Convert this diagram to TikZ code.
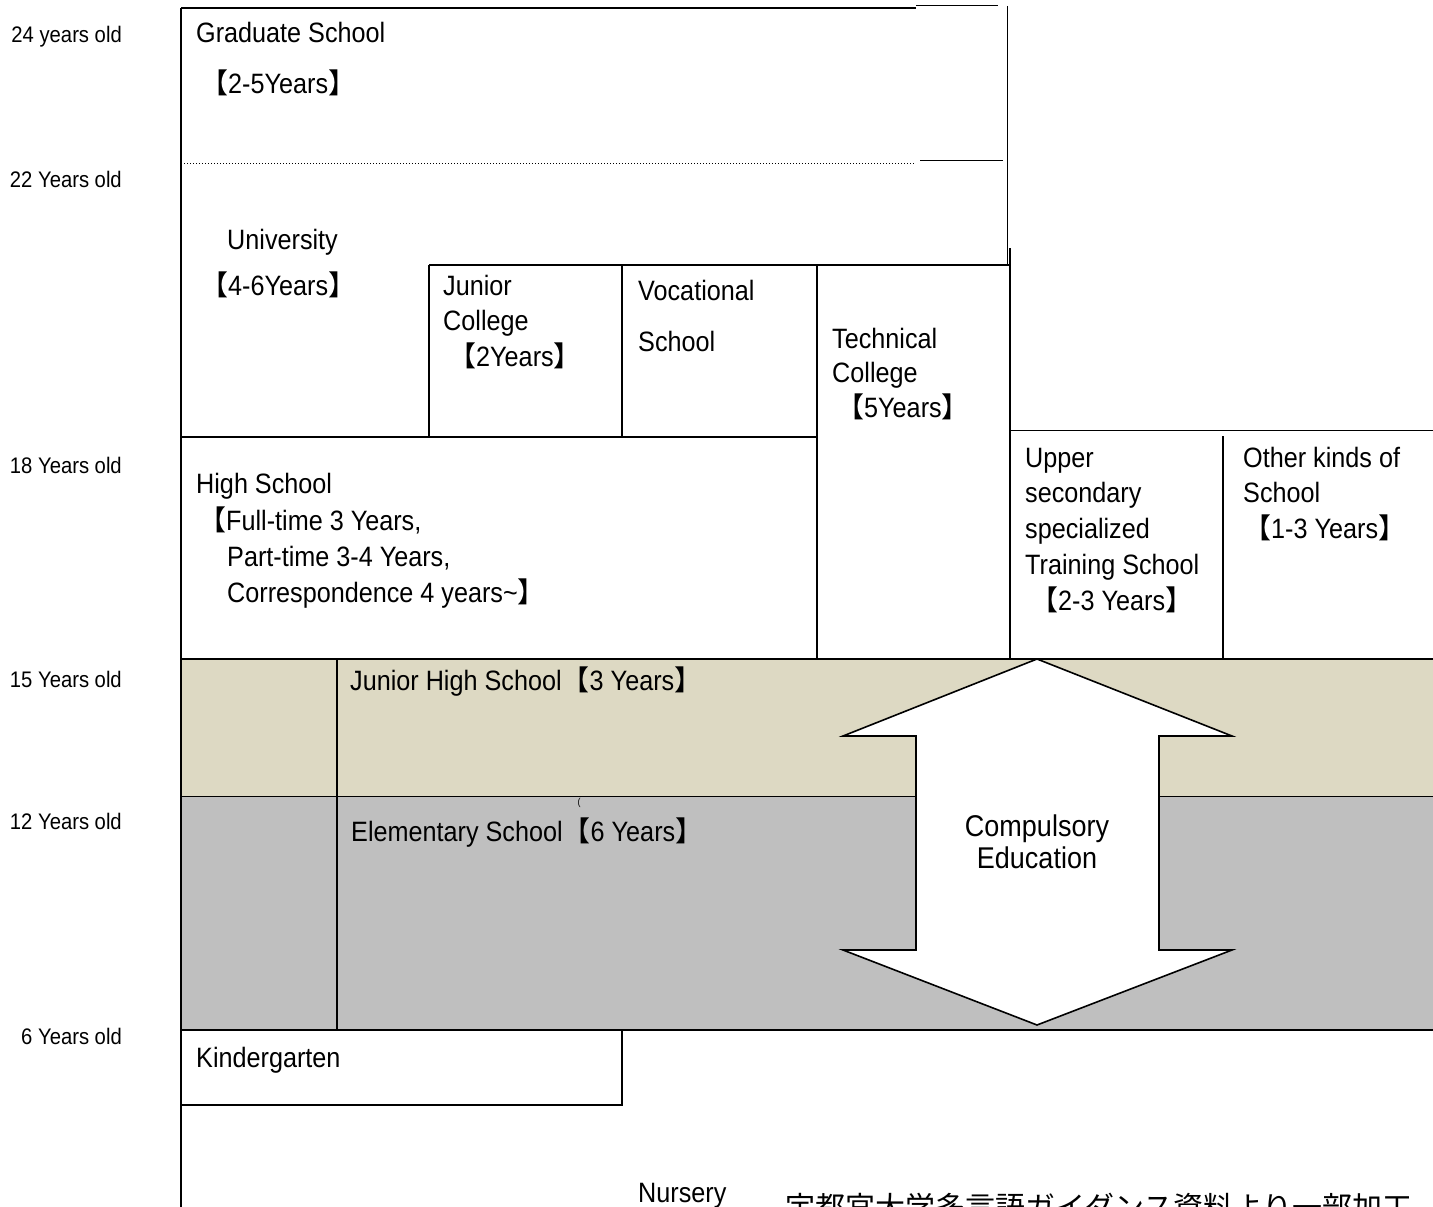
\documentclass[tikz,border=0pt]{standalone}
\usepackage{fontspec}
\setmainfont{Liberation Sans}[FakeStretch=0.9]
\newfontfamily\cjk{Noto Sans CJK JP}
\newcommand\lbk{{\cjk 【}}
\newcommand\rbk{{\cjk 】}}
\definecolor{beige}{RGB}{221,217,195}
\definecolor{midgray}{RGB}{191,191,191}
\begin{document}
\begin{tikzpicture}[x=1pt,y=-1pt,
  ln/.style={line width=1.6pt},
  thin/.style={line width=1pt},
  txt/.style={inner sep=0pt,anchor=base west,font=\fontsize{28}{34}\selectfont},
  age/.style={inner sep=0pt,anchor=base east,font=\fontsize{22.5}{26}\selectfont}]
\useasboundingbox (0,0) rectangle (1433,1207);
% bands
\fill[beige] (181,659) rectangle (1433,796);
\fill[midgray] (181,796) rectangle (1433,1030);
% graduate school
\draw[ln] (181,8) -- (916,8);
\draw[thin] (916,6) -- (998,6);
\draw[thin] (1007,6) -- (1007,265);
\draw[line width=1pt,dotted] (181,163) -- (915,163);
\draw[thin] (920,160) -- (1003,160);
% left vertical
\draw[ln] (181,8) -- (181,1207);
% university row
\draw[ln] (429,265) -- (1010,265);
\draw[ln] (1010,248) -- (1010,658);
\draw[ln] (429,265) -- (429,437);
\draw[ln] (622,265) -- (622,437);
\draw[ln] (817,265) -- (817,658);
\draw[ln] (181,437) -- (817,437);
\draw[thin] (1010,430) -- (1433,430);
\draw[ln] (1223,436) -- (1223,658);
% band lines
\draw[ln] (181,659) -- (1433,659);
\draw[thin] (181,796) -- (1433,796);
\draw[ln] (181,1030) -- (1433,1030);
\draw[ln] (337,659) -- (337,1030);
% kindergarten
\draw[ln] (181,1105) -- (622,1105) -- (622,1030);
% arrow
\draw[ln,fill=white] (1037,659) -- (1232,736) -- (1159,736) -- (1159,950) -- (1232,950)
  -- (1037,1025) -- (843,950) -- (916,950) -- (916,736) -- (843,736) -- cycle;
% texts
\node[txt] (g1) at (196,43) {Graduate School};
\node[txt] (g2) at (200,93) {\lbk 2-5Years\rbk};
\node[txt] (u1) at (227,249) {University};
\node[txt] (u2) at (200,295) {\lbk 4-6Years\rbk};
\node[txt] (jc1) at (443,295) {Junior};
\node[txt] (jc2) at (443,330) {College};
\node[txt] (jc3) at (448,366) {\lbk 2Years\rbk};
\node[txt] (v1) at (638,300) {Vocational};
\node[txt] (v2) at (638,351) {School};
\node[txt] (t1) at (832,348) {Technical};
\node[txt] (t2) at (832,382) {College};
\node[txt] (t3) at (836,417) {\lbk 5Years\rbk};
\node[txt] (h1) at (196,493) {High School};
\node[txt] (h2) at (198,530) {\lbk Full-time 3 Years,};
\node[txt] (h3) at (227,566) {Part-time 3-4 Years,};
\node[txt] (h4) at (227,602) {Correspondence 4 years\textasciitilde\rbk};
\node[txt] (s1) at (1025,467) {Upper};
\node[txt] (s2) at (1025,502) {secondary};
\node[txt] (s3) at (1025,538) {specialized};
\node[txt] (s4) at (1025,574) {Training School};
\node[txt] (s5) at (1030,610) {\lbk 2-3 Years\rbk};
\node[txt] (o1) at (1243,467) {Other kinds of};
\node[txt] (o2) at (1243,502) {School};
\node[txt] (o3) at (1243,538) {\lbk 1-3 Years\rbk};
\node[txt] (jh) at (350,690) {Junior High School\lbk 3 Years\rbk};
\node[txt] (el) at (351,841) {Elementary School\lbk 6 Years\rbk};
\node[inner sep=0pt,font=\fontsize{10}{12}\selectfont] (paren) at (579,803) {(};
\node[txt,anchor=base,font=\fontsize{30}{34}\selectfont] (c1) at (1037,836) {Compulsory};
\node[txt,anchor=base,font=\fontsize{30}{34}\selectfont] (c2) at (1037,868) {Education};
\node[txt] (k) at (196,1067) {Kindergarten};
\node[txt] (n) at (638,1202) {Nursery};
\node[inner sep=0pt,anchor=base west,font=\cjk\fontsize{30}{36}\selectfont] (src) at (785,1218) {宇都宮大学多言語ガイダンス資料より一部加工};
% ages
\node[age] (a24) at (122,43) {24 years old};
\node[age] (a22) at (122,187) {22 Years old};
\node[age] (a18) at (122,473) {18 Years old};
\node[age] (a15) at (122,687) {15 Years old};
\node[age] (a12) at (122,829) {12 Years old};
\node[age] (a6) at (122,1044) {6 Years old};
\end{tikzpicture}
\end{document}
